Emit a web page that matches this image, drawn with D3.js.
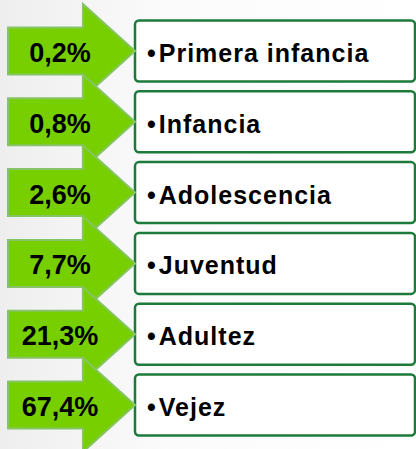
<!DOCTYPE html>
<html><head><meta charset="utf-8">
<script src="https://cdn.jsdelivr.net/npm/d3@7"></script>
<style>html,body{margin:0;padding:0;background:#fff;}svg{display:block;}</style>
</head><body>
<script>
const categories = ["Primera infancia","Infancia","Adolescencia","Juventud","Adultez","Vejez"];
const values = [0.2, 0.8, 2.6, 7.7, 21.3, 67.4];
const valueLabels = ["0,2%","0,8%","2,6%","7,7%","21,3%","67,4%"];

const W = 416, H = 449;
const svg = d3.select("body").append("svg").attr("width", W).attr("height", H);
const defs = svg.append("defs");
const g = defs.append("linearGradient").attr("id","bg").attr("x1","0").attr("x2","1").attr("y1","0").attr("y2","0");
g.append("stop").attr("offset","0").attr("stop-color","#eeeeee");
g.append("stop").attr("offset","0.4").attr("stop-color","#fbfbfb");
g.append("stop").attr("offset","1").attr("stop-color","#ffffff");
svg.append("rect").attr("width",W).attr("height",H).attr("fill","url(#bg)");

const y = d3.scalePoint().domain(categories).range([51, 405]);
const x = d3.scaleLinear().domain([0, 1]).range([8, 135]); // arrow span
const bodyEnd = x(0.59), tip = x(1);
const bodyH = 23.5, headH = 47;
const boxH = 61;

const rows = svg.selectAll("g.row").data(categories.map((c,i)=>({c, v:values[i], l:valueLabels[i]})))
  .enter().append("g").attr("class","row");

// boxes
rows.append("rect")
  .attr("x", tip).attr("y", d => y(d.c) - boxH/2)
  .attr("width", 415 - tip).attr("height", boxH)
  .attr("rx", 4).attr("fill", "#fff")
  .attr("stroke", "#1c7b3a").attr("stroke-width", 2.5);

const lt = rows.append("text")
  .attr("x", 147).attr("y", d => y(d.c) + 11)
  .attr("font-family", "Liberation Sans, Arial, sans-serif")
  .attr("font-weight", "bold").attr("font-size", 25)
  .attr("letter-spacing", "1px")
  .attr("fill", "#000");
lt.append("tspan").text("•");
lt.append("tspan").attr("dx", 2).text(d => d.c);

// arrows
rows.append("path")
  .attr("d", d => {
    const c = y(d.c);
    return `M${x(0)},${c-bodyH} L${bodyEnd},${c-bodyH} L${bodyEnd},${c-headH} L${tip},${c} L${bodyEnd},${c+headH} L${bodyEnd},${c+bodyH} L${x(0)},${c+bodyH} Z`;
  })
  .attr("fill", "#78cf00")
  .attr("stroke", "#86c466").attr("stroke-width", 2);

rows.append("text")
  .attr("x", 60).attr("y", d => y(d.c) + 11)
  .attr("text-anchor", "middle")
  .attr("font-family", "Liberation Sans, Arial, sans-serif")
  .attr("font-weight", "bold").attr("font-size", 27)
  .attr("fill", "#000")
  .text(d => d.l);
</script>
</body></html>
